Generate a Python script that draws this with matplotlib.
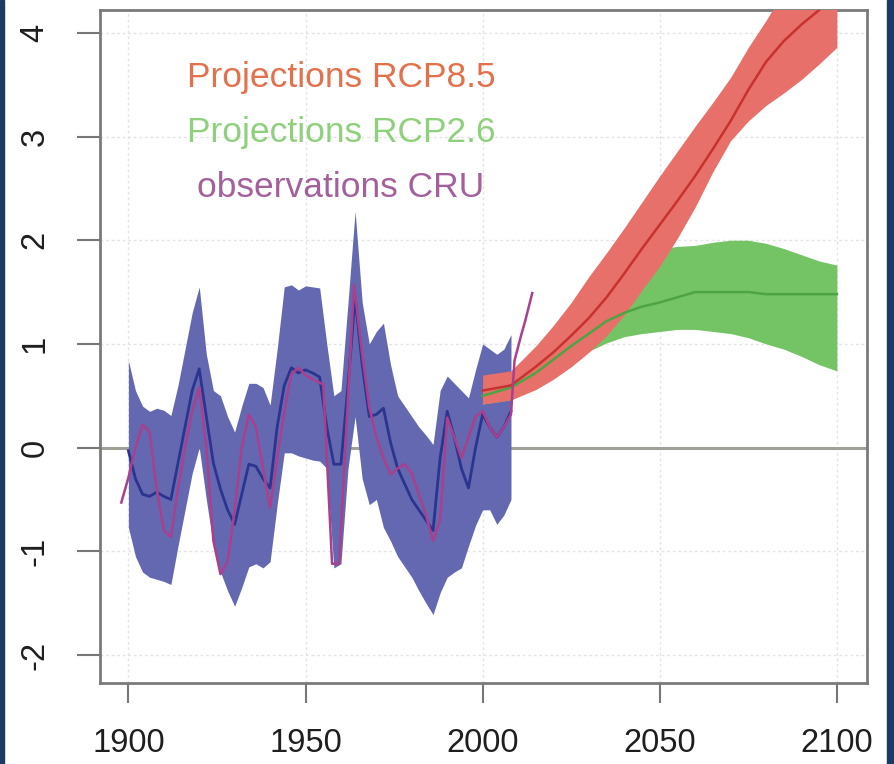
import numpy as np
import matplotlib.pyplot as plt
from matplotlib.patches import Rectangle

plt.rcParams['font.family'] = ['Liberation Sans', 'DejaVu Sans']
plt.rcParams['axes.unicode_minus'] = False

# historical ensemble envelope and mean (1900-2008)
years_hist = [1900, 1902, 1904, 1906, 1908, 1910, 1912, 1914, 1916, 1918,
              1920, 1922, 1924, 1926, 1928, 1930, 1932, 1934, 1936, 1938,
              1940, 1942, 1944, 1946, 1948, 1950, 1952, 1954, 1956, 1958,
              1960, 1962, 1964, 1966, 1968, 1970, 1972, 1974, 1976, 1978,
              1980, 1982, 1984, 1986, 1988, 1990, 1992, 1994, 1996, 1998,
              2000, 2002, 2004, 2006, 2008]
hist_upper = [0.84, 0.55, 0.40, 0.35, 0.38, 0.36, 0.31, 0.60, 0.95, 1.30,
              1.55, 0.90, 0.55, 0.50, 0.30, 0.15, 0.40, 0.62, 0.62, 0.58,
              0.41, 0.95, 1.55, 1.57, 1.52, 1.56, 1.55, 1.54, 1.00, 0.50,
              0.55, 1.40, 2.28, 1.40, 1.00, 1.12, 1.20, 0.80, 0.50, 0.40,
              0.30, 0.20, 0.12, 0.03, 0.55, 0.69, 0.62, 0.55, 0.48, 0.75,
              1.00, 0.95, 0.90, 0.95, 1.09]
hist_lower = [-0.77, -1.05, -1.20, -1.25, -1.27, -1.29, -1.32, -0.95, -0.60, -0.25,
              0.00, -0.50, -0.95, -1.20, -1.38, -1.53, -1.35, -1.15, -1.12, -1.16,
              -1.10, -0.55, -0.05, -0.05, -0.08, -0.10, -0.12, -0.13, -0.20, -1.16,
              -1.12, -0.20, 0.30, -0.30, -0.55, -0.50, -0.77, -0.90, -1.05, -1.15,
              -1.25, -1.38, -1.50, -1.61, -1.40, -1.25, -1.20, -1.16, -0.95, -0.75,
              -0.60, -0.60, -0.74, -0.65, -0.50]
hist_mean = [-0.03, -0.30, -0.45, -0.47, -0.43, -0.47, -0.50, -0.15, 0.20, 0.55,
             0.76, 0.30, -0.15, -0.40, -0.60, -0.74, -0.45, -0.16, -0.18, -0.30,
             -0.39, 0.20, 0.60, 0.77, 0.72, 0.75, 0.72, 0.68, 0.20, -0.16,
             -0.16, 0.60, 1.45, 0.80, 0.30, 0.32, 0.38, 0.05, -0.20, -0.35,
             -0.50, -0.60, -0.70, -0.80, -0.10, 0.35, 0.10, -0.20, -0.39, 0.00,
             0.32, 0.20, 0.10, 0.20, 0.35]

# CRU observations
years_obs = [1898, 1900, 1902, 1904, 1906, 1908, 1910, 1912, 1914, 1916,
             1918, 1920, 1922, 1924, 1926, 1928, 1930, 1932, 1934, 1936,
             1938, 1940, 1942, 1944, 1946, 1948, 1950, 1952, 1955, 1957.5,
             1959.5, 1963.7, 1966, 1968, 1970, 1972, 1974, 1976, 1978, 1980,
             1982, 1984, 1986, 1988, 1990, 1992, 1994, 1996, 1998, 2000,
             2002, 2004, 2006, 2008, 2009, 2011, 2012, 2014]
obs = [-0.53, -0.29, 0.00, 0.22, 0.15, -0.40, -0.80, -0.86, -0.40, 0.00,
       0.35, 0.58, 0.00, -0.90, -1.22, -1.10, -0.60, 0.00, 0.32, 0.20,
       -0.20, -0.58, -0.10, 0.35, 0.71, 0.77, 0.70, 0.66, 0.61, -1.12,
       -1.12, 1.57, 0.90, 0.39, 0.10, -0.10, -0.26, -0.20, -0.16, -0.25,
       -0.45, -0.65, -0.90, -0.70, 0.29, 0.10, -0.10, 0.10, 0.30, 0.35,
       0.20, 0.10, 0.20, 0.32, 0.84, 1.10, 1.22, 1.49]

# scenario projections (2000-2100)
years_proj = [2000, 2008, 2015, 2020, 2025, 2030, 2035, 2040, 2045, 2050,
              2055, 2060, 2065, 2070, 2075, 2080, 2085, 2090, 2095, 2100]
rcp85_mean = [0.55, 0.60, 0.78, 0.92, 1.08, 1.25, 1.45, 1.68, 1.92, 2.15,
              2.38, 2.62, 2.88, 3.15, 3.45, 3.72, 3.92, 4.08, 4.22, 4.38]
rcp85_upper = [0.70, 0.74, 0.98, 1.18, 1.40, 1.65, 1.88, 2.12, 2.37, 2.62,
               2.86, 3.10, 3.33, 3.57, 3.86, 4.12, 4.40, 4.65, 4.80, 4.90]
rcp85_lower = [0.42, 0.46, 0.56, 0.66, 0.78, 0.92, 1.08, 1.28, 1.52, 1.75,
               2.02, 2.32, 2.66, 2.96, 3.15, 3.30, 3.42, 3.55, 3.70, 3.86]
rcp26_mean = [0.50, 0.58, 0.72, 0.85, 0.98, 1.10, 1.22, 1.30, 1.36, 1.40,
              1.45, 1.50, 1.50, 1.50, 1.50, 1.48, 1.48, 1.48, 1.48, 1.48]
rcp26_upper = [0.60, 0.66, 0.84, 1.00, 1.18, 1.38, 1.58, 1.74, 1.86, 1.92,
               1.94, 1.95, 1.98, 2.00, 2.00, 1.97, 1.92, 1.86, 1.80, 1.76]
rcp26_lower = [0.42, 0.46, 0.58, 0.70, 0.82, 0.93, 1.01, 1.07, 1.10, 1.12,
               1.14, 1.14, 1.12, 1.10, 1.06, 1.00, 0.95, 0.88, 0.80, 0.74]

xticks = [1900, 1950, 2000, 2050, 2100]
yticks = [-2, -1, 0, 1, 2, 3, 4]

fig = plt.figure(figsize=(8.94, 7.64), dpi=100)
ax = fig.add_axes([0.1119, 0.1060, 0.8579, 0.8809])

ax.fill_between(years_hist, hist_lower, hist_upper, color='#6468b0', lw=0, zorder=2)
ax.fill_between(years_proj, rcp26_lower, rcp26_upper, color='#74c466', lw=0, zorder=3)
ax.fill_between(years_proj, rcp85_lower, rcp85_upper, color='#e8706a', lw=0, zorder=4)
ax.plot(years_hist, hist_mean, color='#2b3590', lw=2.0, zorder=5)
ax.plot(years_proj, rcp26_mean, color='#4ea443', lw=1.8, zorder=5)
ax.plot(years_proj, rcp85_mean, color='#c8322e', lw=1.8, zorder=6)
ax.plot(years_obs, obs, color='#a8408e', lw=1.8, zorder=7)

ax.axhline(0, color='#a09f98', lw=2.2, zorder=1)
for t in xticks:
    ax.axvline(t, color='#e4e4e4', lw=1, ls=(0, (2, 2)), zorder=0)
for t in yticks:
    ax.axhline(t, color='#e4e4e4', lw=1, ls=(0, (2, 2)), zorder=0)

ax.set_xlim(1892, 2108.5)
ax.set_ylim(-2.27, 4.22)
ax.set_xticks(xticks)
ax.set_yticks(yticks)
ax.set_xticklabels([str(t) for t in xticks])
ax.set_yticklabels([str(t) for t in yticks], rotation=90, va='center')
ax.tick_params(axis='x', length=14.5, width=1.5, color='#777777', pad=18,
               labelsize=23.5, labelcolor='#1e1e1e')
ax.tick_params(axis='y', length=16.5, width=1.5, color='#777777', pad=19,
               labelsize=23.5, labelcolor='#1e1e1e')
for s in ax.spines.values():
    s.set_color('#7a7a7a')
    s.set_linewidth(2)

ax.text(1960, 3.57, 'Projections RCP8.5', color='#e2714c', fontsize=25.5,
        ha='center', va='center', zorder=8)
ax.text(1960, 3.04, 'Projections RCP2.6', color='#8fd07c', fontsize=25.5,
        ha='center', va='center', zorder=8)
ax.text(1960, 2.51, 'observations CRU', color='#a3619c', fontsize=25.5,
        ha='center', va='center', zorder=8)

# navy frame strips on the sides
fig.patches.append(Rectangle((0, 0), 4 / 894, 1, transform=fig.transFigure,
                             color='#1b3a66', zorder=10))
fig.patches.append(Rectangle((887 / 894, 0), 7 / 894, 1, transform=fig.transFigure,
                             color='#1b3a66', zorder=10))

plt.savefig("out.png", dpi=100)
